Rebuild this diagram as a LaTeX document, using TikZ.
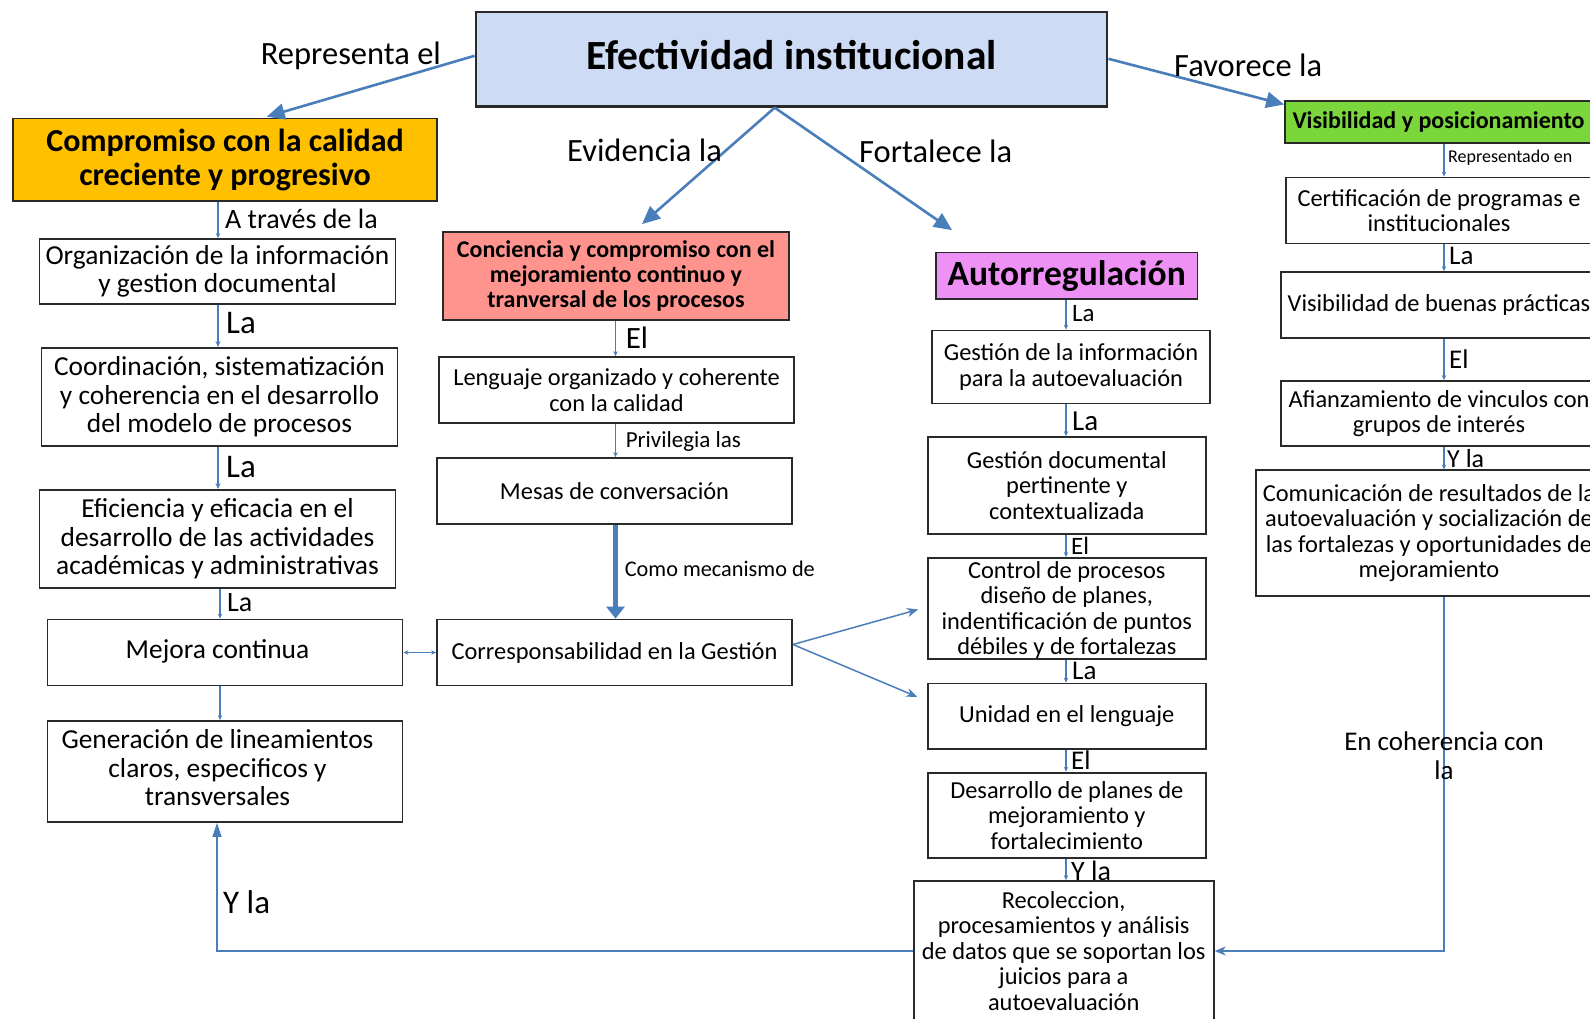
\documentclass[tikz,border=0pt]{standalone}
\usepackage{fontspec}
\setmainfont{Carlito}
\usetikzlibrary{arrows.meta,calc}
\definecolor{arr}{HTML}{4A7EBB}
\definecolor{bord}{HTML}{2A2A2A}
\definecolor{mainfill}{HTML}{CDDBF5}
\definecolor{compfill}{HTML}{FFC000}
\definecolor{concfill}{HTML}{FF948F}
\definecolor{autofill}{HTML}{EE91F5}
\definecolor{visfill}{HTML}{7AD63A}
\newcommand{\fs}[2]{\fontsize{#1}{#2}\selectfont}
\newcommand{\lefttext}[1]{\hspace*{-15pt}\begin{tabular}{@{}c@{}}#1\end{tabular}}
\tikzset{
  box/.style={draw=bord, line width=1.8pt, fill=white, align=center, inner sep=2pt, anchor=center},
  lbl/.style={inner sep=0pt, anchor=west, text=black},
  thinarr/.style={draw=arr, line width=1.4pt, -{Stealth[length=5pt,width=4.5pt]}},
  medarr/.style={draw=arr, line width=2.2pt, -{Stealth[length=6pt,width=5pt]}},
  sidearr/.style={draw=arr, line width=1.5pt, -{Stealth[length=11pt,width=9pt]}},
  bigarr/.style={draw=arr, line width=2.6pt, -{Triangle[length=18pt,width=16pt]}},
}
\begin{document}
\begin{tikzpicture}[x=1pt,y=-1pt]
\useasboundingbox (0,0) rectangle (1590,1019);
\clip (0,0) rectangle (1590,1019);
\fill[white] (0,0) rectangle (1590,1019);

% main nodes
\node[box, fill=mainfill, line width=2.2pt, minimum width=631.7pt, minimum height=94.3pt, font=\bfseries\fs{41.5}{46}] (main) at (791.5,59.4) {\raisebox{8pt}{Efectividad institucional}};
\node[box, fill=compfill, minimum width=423.8pt, minimum height=82.2pt, font=\bfseries\fs{32}{34}] (comp) at (225.1,159.7) {Compromiso con la calidad\\creciente y progresivo};
\node[box, fill=concfill, minimum width=346pt, minimum height=88pt, font=\bfseries\fs{24}{25.4}] (conc) at (616,276) {Conciencia y compromiso con el\\mejoramiento continuo y\\tranversal de los procesos};
\node[box, fill=autofill, minimum width=261.5pt, minimum height=46.5pt, font=\bfseries\fs{35.5}{38}] (auto) at (1066.7,275.8) {Autorregulación};
\node[box, fill=visfill, minimum width=307pt, minimum height=41.6pt, font=\bfseries\fs{24}{26}] (vis) at (1438.5,122.2) {Visibilidad y posicionamiento};

% left column
\node[box, minimum width=356pt, minimum height=65pt, font=\fs{27.4}{28.4}] (org) at (217.5,271.5) {Organización de la información\\y gestion documental};
\node[box, minimum width=356pt, minimum height=98pt, font=\fs{27.4}{28.4}] (coord) at (219.5,397) {Coordinación, sistematización\\y coherencia en el desarrollo\\del modelo de procesos};
\node[box, minimum width=356pt, minimum height=98pt, font=\fs{27.4}{28.4}] (efic) at (217.5,539) {Eficiencia y eficacia en el\\desarrollo de las actividades\\académicas y administrativas};
\node[box, minimum width=355pt, minimum height=66pt, font=\fs{27.4}{28.4}] (mejora) at (225,652.5) {\lefttext{Mejora continua}};
\node[box, minimum width=355pt, minimum height=101pt, font=\fs{27.4}{28.4}] (gen) at (225,771.5) {\lefttext{Generación de lineamientos\\claros, especificos y\\transversales}};

% middle column
\node[box, minimum width=355pt, minimum height=66pt, font=\fs{24.4}{25.4}] (leng) at (616.5,390) {Lenguaje organizado y coherente\\con la calidad};
\node[box, minimum width=355pt, minimum height=66pt, font=\fs{24.4}{25.4}] (mesas) at (614.5,491) {Mesas de conversación};
\node[box, minimum width=355pt, minimum height=66pt, font=\fs{24.4}{25.4}] (corr) at (614.5,652.5) {Corresponsabilidad en la Gestión};

% autorregulacion column
\node[box, minimum width=278pt, minimum height=73pt, font=\fs{24.4}{25.4}] (gi) at (1071,367) {Gestión de la información\\para la autoevaluación};
\node[box, minimum width=277.6pt, minimum height=97pt, font=\fs{24.4}{25.4}] (gd) at (1066.8,485.5) {Gestión documental\\pertinente y\\contextualizada};
\node[box, minimum width=277.6pt, minimum height=101pt, font=\fs{24.4}{25.4}] (ctrl) at (1066.8,608.5) {\raisebox{-9pt}[0pt][0pt]{\begin{tabular}{@{}c@{}}Control de procesos\\diseño de planes,\\indentificación de puntos\\débiles y de fortalezas\end{tabular}}};
\node[box, minimum width=277.6pt, minimum height=65.5pt, font=\fs{24.4}{25.4}] (uni) at (1066.8,716.3) {Unidad en el lenguaje};
\node[box, minimum width=277.6pt, minimum height=85.3pt, font=\fs{24.4}{25.4}] (des) at (1066.8,815.3) {Desarrollo de planes de\\mejoramiento y\\fortalecimiento};
\node[box, minimum width=300.2pt, minimum height=140pt, font=\fs{24.4}{25.4}] (rec) at (1063.7,951) {Recoleccion,\\ procesamientos y análisis\\de datos que se soportan los\\juicios para a\\autoevaluación};

% right column
\node[box, minimum width=306pt, minimum height=66pt, font=\fs{24.4}{25.4}] (cert) at (1439,210.5) {Certificación de programas e\\institucionales};
\node[box, minimum width=316pt, minimum height=66pt, font=\fs{24.4}{25.4}] (vbp) at (1439,305) {Visibilidad de buenas prácticas};
\node[box, minimum width=316pt, minimum height=65pt, font=\fs{24.4}{25.4}] (afi) at (1439,413.5) {Afianzamiento de vinculos con\\grupos de interés};
\node[box, minimum width=346pt, minimum height=125.5pt, font=\fs{24.4}{25.4}] (com) at (1429,533) {Comunicación de resultados de la\\autoevaluación y socialización de\\las fortalezas y oportunidades de\\mejoramiento};

% column coordinates
\coordinate (cL) at (218,0);
\coordinate (cL2) at (220,0);
\coordinate (cY) at (217,0);
\coordinate (cM) at (615.5,0);
\coordinate (cA) at (1066,0);
\coordinate (cR) at (1444,0);

% big arrows from main
\draw[bigarr] ($(main.west)+(0,-3.6)$) -- ($(comp.north)+(41.6,-1)$);
\draw[bigarr] ($(main.south)+(-16.8,0)$) -- ($(conc.north)+(26,-7)$);
\draw[bigarr] ($(main.south)+(-16.8,0)$) -- ($(auto.north west)+(17,-21.5)$);
\draw[bigarr] ($(main.east)+(0,-0.6)$) -- ($(vis.north west)+(0,4)$);

\node[lbl, font=\fs{32.5}{36}] (l1) at (260.6,56) {Representa el};
\node[lbl, font=\fs{32.5}{36}] (l2) at (567,150) {Evidencia la};
\node[lbl, font=\fs{32.5}{36}] (l3) at (859,151) {Fortalece la};
\node[lbl, font=\fs{32.5}{36}] (l4) at (1174,65) {Favorece la};

% left column connectors
\draw[thinarr] (comp.south -| cL) -- (org.north -| cL);
\draw[medarr] (org.south -| cL) -- (coord.north -| cL);
\draw[medarr] (coord.south -| cL) -- (efic.north -| cL);
\draw[thinarr] (efic.south -| cL2) -- (mejora.north -| cL2);
\draw[thinarr] (mejora.south -| cL2) -- (gen.north -| cL2);
\draw[draw=arr, line width=1.4pt, {Stealth[length=5pt,width=4.5pt]}-{Stealth[length=5pt,width=4.5pt]}] (mejora.east) -- (corr.west);

\node[lbl, font=\fs{28}{30}] (l5) at (225,219) {A través de la};
\node[lbl, font=\fs{33}{36}] (l6) at (226,323.5) {La};
\node[lbl, font=\fs{33}{36}] (l7) at (226,467.5) {La};
\node[lbl, font=\fs{28}{30}] (l8) at (227,603) {La};

% middle column connectors
\draw[thinarr] (conc.south -| cM) -- (leng.north -| cM);
\draw[thinarr] (leng.south -| cM) -- (mesas.north -| cM);
\draw[draw=arr, line width=4.5pt, -{Triangle[length=12pt,width=18pt]}] (mesas.south -| cM) -- (corr.north -| cM);
\draw[sidearr] ($(corr.east)+(0,-8)$) -- ($(ctrl.west)+(-9,1)$);
\draw[sidearr] ($(corr.east)+(0,-8)$) -- ($(uni.west)+(-10,-19.5)$);

\node[lbl, font=\fs{31}{34}] (l9) at (625.6,337.6) {El};
\node[lbl, font=\fs{23}{26}] (l10) at (625.6,441) {Privilegia las};
\node[lbl, font=\fs{22.3}{26}] (l11) at (624.6,569) {Como mecanismo de};

% autorregulacion column connectors
\draw[thinarr] (auto.south -| cA) -- (gi.north -| cA);
\draw[thinarr] (gi.south -| cA) -- (gd.north -| cA);
\draw[thinarr] (gd.south -| cA) -- (ctrl.north -| cA);
\draw[thinarr] (ctrl.south -| cA) -- (uni.north -| cA);
\draw[thinarr] (uni.south -| cA) -- (des.north -| cA);
\draw[thinarr] (des.south -| cA) -- (rec.north -| cA);

\node[lbl, font=\fs{25}{28}] (l12) at (1072,314) {La};
\node[lbl, font=\fs{29}{32}] (l13) at (1072,421) {La};
\node[lbl, font=\fs{25}{27}] (l14) at (1071,546) {El};
\node[lbl, font=\fs{27}{30}] (l15) at (1072,671) {La};
\node[lbl, font=\fs{27}{30}] (l16) at (1071,760.5) {El};
\node[lbl, font=\fs{28}{30}] (l17) at (1071,871) {Y la};

% right column connectors
\draw[thinarr] (vis.south -| cR) -- (cert.north -| cR);
\draw[thinarr] (cert.south -| cR) -- (vbp.north -| cR);
\draw[thinarr] (vbp.south -| cR) -- (afi.north -| cR);
\draw[thinarr] (afi.south -| cR) -- (com.north -| cR);
\draw[sidearr] (com.south -| cR) |- (rec.east);
\draw[draw=arr, line width=1.5pt, -{Triangle[length=14pt,width=9pt]}] (rec.west) -| (gen.south -| cY);

\node[lbl, font=\fs{18}{20}] (l18) at (1448,158) {Representado en};
\node[lbl, font=\fs{27}{30}] (l19) at (1449,255.5) {La};
\node[lbl, font=\fs{27}{30}] (l20) at (1449,359) {El};
\node[lbl, font=\fs{26}{28}] (l21) at (1447,459) {Y la};
\node[inner sep=0pt, align=center, font=\fs{27}{29}] (l22) at (1444,756) {En coherencia con\\la};
\node[lbl, font=\fs{33}{36}] (l23) at (223,902.5) {Y la};
\end{tikzpicture}
\end{document}
